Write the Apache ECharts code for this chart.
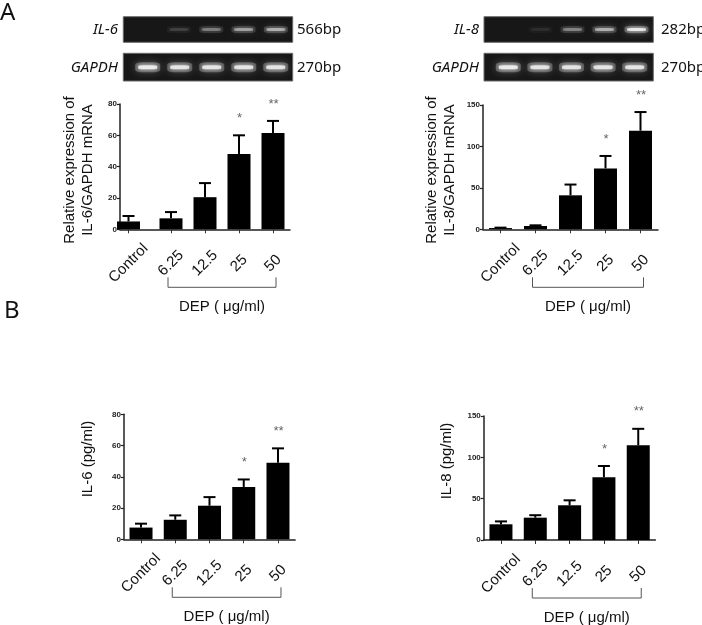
<!DOCTYPE html>
<html><head><meta charset="utf-8">
<script src="https://cdn.jsdelivr.net/npm/echarts@6/dist/echarts.min.js"></script>
<style>html,body{margin:0;padding:0;background:#fff}#c{width:702px;height:625px}</style>
</head><body><div id="c"></div>
<script>
// ---- data ----
const categories = ['Control', '6.25', '12.5', '25', '50'];
// slot positions of the groups along each x axis (Prism-style layout)
const slotsA1 = [0.25, 1.5, 2.5, 3.5, 4.5];
const slotsStd = [0.5, 1.5, 2.5, 3.5, 4.5];
const il6mRNA = [5.0, 7.0, 20.5, 48, 61.5];
const il6mRNAErr = [3.5, 4.0, 9.0, 12.0, 7.7];
const il8mRNA = [1.5, 4, 41, 73.5, 119];
const il8mRNAErr = [0.5, 0.8, 13, 15, 22.5];
const il6Protein = [7.5, 12.5, 21.5, 33.5, 49];
const il6ProteinErr = [2.5, 2.8, 5.5, 4.8, 9.2];
const il8Protein = [19, 27, 42, 76, 114.5];
const il8ProteinErr = [3.5, 3, 6, 13.5, 20];
const significance = ['', '', '', '*', '**'];
const ticksIL6 = [0, 20, 40, 60, 80];
const ticksIL8 = [0, 50, 100, 150];
// gel band intensities (0..1)
const il6Band = [0, 0.18, 0.42, 0.58, 0.65];
const il8Band = [0, 0.1, 0.45, 0.65, 1.0];
const gapdhBandA = [1, 0.95, 0.95, 0.95, 0.95];
const gapdhBandB = [1, 0.95, 0.95, 0.95, 0.95];

const FONT = '"Liberation Sans", Arial, sans-serif';
const chart = echarts.init(document.getElementById('c'), null, {renderer: 'canvas'});

// grids: 0-3 charts, 4-7 gels
const grids = [
  {left: 120, top: 104, width: 170, height: 125.3},
  {left: 483, top: 105, width: 175, height: 124.3},
  {left: 123.9, top: 414.3, width: 171.2, height: 125},
  {left: 483.8, top: 416, width: 171.6, height: 124},
  {left: 130.5, top: 16.7, width: 161.5, height: 25.6},
  {left: 131.7, top: 53.3, width: 160, height: 27.7},
  {left: 492.5, top: 16.7, width: 160, height: 25.6},
  {left: 492.5, top: 53.3, width: 158, height: 27.7}
];
const chartTicks = [ticksIL6, ticksIL8, ticksIL6, ticksIL8];
const chartSlots = [slotsA1, slotsStd, slotsStd, slotsStd];

const xAxes = grids.map((g, i) => {
  if (i >= 4) return {type: 'category', gridIndex: i, data: categories, show: false};
  const slots = chartSlots[i];
  return {
    type: 'value', gridIndex: i, min: 0, max: 5,
    splitLine: {show: false},
    axisLine: {show: true, lineStyle: {color: '#222', width: 1.5}},
    axisTick: {show: true, length: 4, customValues: slots, lineStyle: {color: '#333', width: 1}},
    axisLabel: {customValues: slots, rotate: 45, margin: 34, align: 'center', verticalAlign: 'middle',
      color: '#111', fontFamily: FONT, fontSize: 15,
      formatter: v => categories[slots.indexOf(v)]}
  };
});
const yAxes = grids.map((g, i) => {
  if (i >= 4) return {type: 'value', gridIndex: i, min: 0, max: 1, show: false};
  const t = chartTicks[i];
  return {
    type: 'value', gridIndex: i, min: t[0], max: t[t.length - 1], interval: t[1] - t[0],
    splitLine: {show: false},
    axisLine: {show: true, lineStyle: {color: '#222', width: 1.5}},
    axisTick: {show: true, length: 3, lineStyle: {color: '#222', width: 1.2}},
    axisLabel: {color: '#222', fontFamily: FONT, fontSize: 8, fontWeight: 'bold', margin: 3}
  };
});

function barSeries(gi, vals) {
  const slots = chartSlots[gi];
  return {type: 'bar', xAxisIndex: gi, yAxisIndex: gi, data: vals.map((v, i) => [slots[i], v]), barWidth: 23,
    itemStyle: {color: '#000'}, z: 3};
}
function errSeries(gi, means, errs) {
  const slots = chartSlots[gi];
  return {
    type: 'custom', xAxisIndex: gi, yAxisIndex: gi, z: 4,
    data: means.map((m, i) => [slots[i], m, m + errs[i]]),
    encode: {x: 0, y: [1, 2]},
    renderItem(params, api) {
      const x = api.value(0);
      const a = api.coord([x, api.value(1)]);
      const b = api.coord([x, api.value(2)]);
      const ch = [
        {type: 'line', shape: {x1: a[0], y1: a[1], x2: b[0], y2: b[1]}, style: {stroke: '#000', lineWidth: 2}},
        {type: 'line', shape: {x1: b[0] - 6, y1: b[1], x2: b[0] + 6, y2: b[1]}, style: {stroke: '#000', lineWidth: 2}}
      ];
      const s = significance[params.dataIndex];
      if (s) ch.push({type: 'text', x: b[0], y: b[1] - 17,
        style: {text: s, fill: '#666', font: 'italic 13px ' + FONT, align: 'center', verticalAlign: 'middle'}});
      return {type: 'group', children: ch};
    }
  };
}
function bandSeries(gi, vals, core, glow) {
  return [
    {type: 'scatter', xAxisIndex: gi, yAxisIndex: gi, symbol: 'roundRect', symbolSize: glow,
      data: vals.map((v, i) => ({value: [i, 0.5], itemStyle: {
        color: 'rgba(170,170,170,' + (v * 0.5) + ')', shadowBlur: 8, shadowColor: 'rgba(255,255,255,' + (v * 0.55) + ')'}})),
      silent: true, z: 2},
    {type: 'scatter', xAxisIndex: gi, yAxisIndex: gi, symbol: 'roundRect', symbolSize: core,
      data: vals.map((v, i) => ({value: [i, 0.5], itemStyle: {
        color: 'rgba(255,255,255,' + (v * 0.95) + ')', shadowBlur: 4, shadowColor: 'rgba(255,255,255,' + v + ')'}})),
      silent: true, z: 3}
  ];
}

const series = [
  barSeries(0, il6mRNA), errSeries(0, il6mRNA, il6mRNAErr),
  barSeries(1, il8mRNA), errSeries(1, il8mRNA, il8mRNAErr),
  barSeries(2, il6Protein), errSeries(2, il6Protein, il6ProteinErr),
  barSeries(3, il8Protein), errSeries(3, il8Protein, il8ProteinErr),
  ...bandSeries(4, il6Band, [19, 3], [24, 7]),
  ...bandSeries(5, gapdhBandA, [19, 4], [25, 10]),
  ...bandSeries(6, il8Band, [19, 3], [24, 7]),
  ...bandSeries(7, gapdhBandB, [19, 4], [25, 10])
];

chart.setOption({
  animation: false,
  backgroundColor: '#fff',
  grid: grids.map(g => Object.assign({containLabel: false}, g)),
  xAxis: xAxes, yAxis: yAxes, series
});

// ---- decorations ----
const g = [];
function txt(x, y, text, font, align, extra) {
  g.push(Object.assign({type: 'text', x, y, z: 10,
    style: {text, font, fill: '#111', align: align || 'left', verticalAlign: 'middle'}}, extra || {}));
}
[[123.3, 16.7, 169.4, 25.6], [123.3, 53.3, 169.4, 27.7], [484, 16.7, 169.3, 25.6], [484, 53.3, 169.3, 27.7]]
  .forEach(r => g.push({type: 'rect', z: -10, shape: {x: r[0], y: r[1], width: r[2], height: r[3]},
    style: {fill: '#171717', stroke: '#6a6a6a', lineWidth: 1}}));
const GF = '"Noto Sans", "Open Sans", sans-serif';
txt(0, 13, 'A', '24px ' + GF);
txt(4, 311, 'B', '24px ' + GF);
txt(118, 29.5, 'IL-6', 'italic 15px ' + GF, 'right');
txt(118, 67.5, 'GAPDH', 'italic 15px ' + GF, 'right');
txt(297, 29.5, '566bp', '15px ' + GF);
txt(297, 67.5, '270bp', '15px ' + GF);
txt(479, 29.5, 'IL-8', 'italic 15px ' + GF, 'right');
txt(479, 67.5, 'GAPDH', 'italic 15px ' + GF, 'right');
txt(661, 29.5, '282bp', '15px ' + GF);
txt(661, 67.5, '270bp', '15px ' + GF);
const yTitles = [
  [79, 170, 'Relative expression of\nIL-6/GAPDH mRNA'],
  [441, 170, 'Relative expression of\nIL-8/GAPDH mRNA'],
  [87.5, 459, 'IL-6 (pg/ml)'],
  [447, 461, 'IL-8 (pg/ml)']
];
yTitles.forEach(t => g.push({type: 'text', x: t[0], y: t[1], rotation: Math.PI / 2, z: 10,
  style: {text: t[2], font: '15px ' + FONT, fill: '#111', align: 'center', verticalAlign: 'middle', lineHeight: 18}}));
for (let gi = 0; gi < 4; gi++) {
  const slots = chartSlots[gi];
  const p1 = chart.convertToPixel({gridIndex: gi}, [slots[1], 0]);
  const p2 = chart.convertToPixel({gridIndex: gi}, [slots[4], 0]);
  const x1 = p1[0] - 3, x2 = p2[0] + 3, y = p1[1] + 58;
  g.push({type: 'polyline', z: 10, shape: {points: [[x1, y - 10], [x1, y], [x2, y], [x2, y - 10]]},
    style: {stroke: '#555', lineWidth: 1, fill: null}});
  txt((x1 + x2) / 2, y + 20, 'DEP ( μg/ml)', '15px ' + FONT, 'center');
}
chart.setOption({graphic: g});
</script>
</body></html>
